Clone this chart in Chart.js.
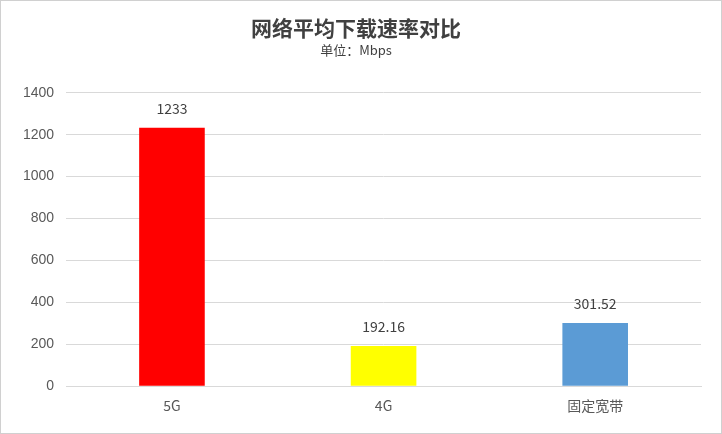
<!DOCTYPE html>
<html><head><meta charset="utf-8">
<script src="https://cdn.jsdelivr.net/npm/chart.js@4"></script>
<style>html,body{margin:0;padding:0;background:#fff}
#w{width:720px;height:432px;border:1px solid #d0d0d0;position:relative}</style>
</head><body><div id="w"><canvas id="c"></canvas></div>
<script>
const categories = ["5G", "4G", "固定宽带"];
const values = [1233, 192.16, 301.52];
const valueLabels = ["1233", "192.16", "301.52"];
const barColors = ["#ff0000", "#ffff00", "#5b9bd5"];
const labelPlugin = {id:'lbl', afterDatasetsDraw(ch){
  const ctx=ch.ctx; ctx.save(); ctx.fillStyle='#404040'; ctx.font='14px "Microsoft YaHei","Noto Sans CJK SC",sans-serif';
  ctx.textAlign='center'; ctx.textBaseline='bottom';
  ch.getDatasetMeta(0).data.forEach((b,i)=>ctx.fillText(valueLabels[i], b.x, b.y-12));
  ctx.restore();}};
new Chart(document.getElementById('c'),{type:'bar',
 data:{labels:categories,datasets:[{data:values,backgroundColor:barColors,barPercentage:0.31,categoryPercentage:1}]},
 options:{responsive:true,maintainAspectRatio:false,animation:false,
  layout:{padding:{left:10,right:20,top:0,bottom:16}},
  plugins:{legend:{display:false},tooltip:{enabled:false},
   title:{display:true,text:'网络平均下载速率对比',color:'#404040',font:{size:21,weight:'bold',family:'"Noto Sans CJK SC",sans-serif'},padding:{top:14,bottom:2}},
   subtitle:{display:true,text:'单位：Mbps',color:'#404040',font:{size:13,family:'"Noto Sans CJK SC",sans-serif'},padding:{bottom:35}}},
  scales:{x:{grid:{display:false},border:{color:'#d9d9d9'},ticks:{color:'#595959',font:{size:14,family:'"Noto Sans CJK SC",sans-serif'}}},
   y:{min:0,max:1400,ticks:{stepSize:200,color:'#595959',padding:12,font:{size:14},callback:v=>String(v)},grid:{color:'#d9d9d9',drawTicks:false},border:{display:false}}}},
 plugins:[labelPlugin]});
</script></body></html>
